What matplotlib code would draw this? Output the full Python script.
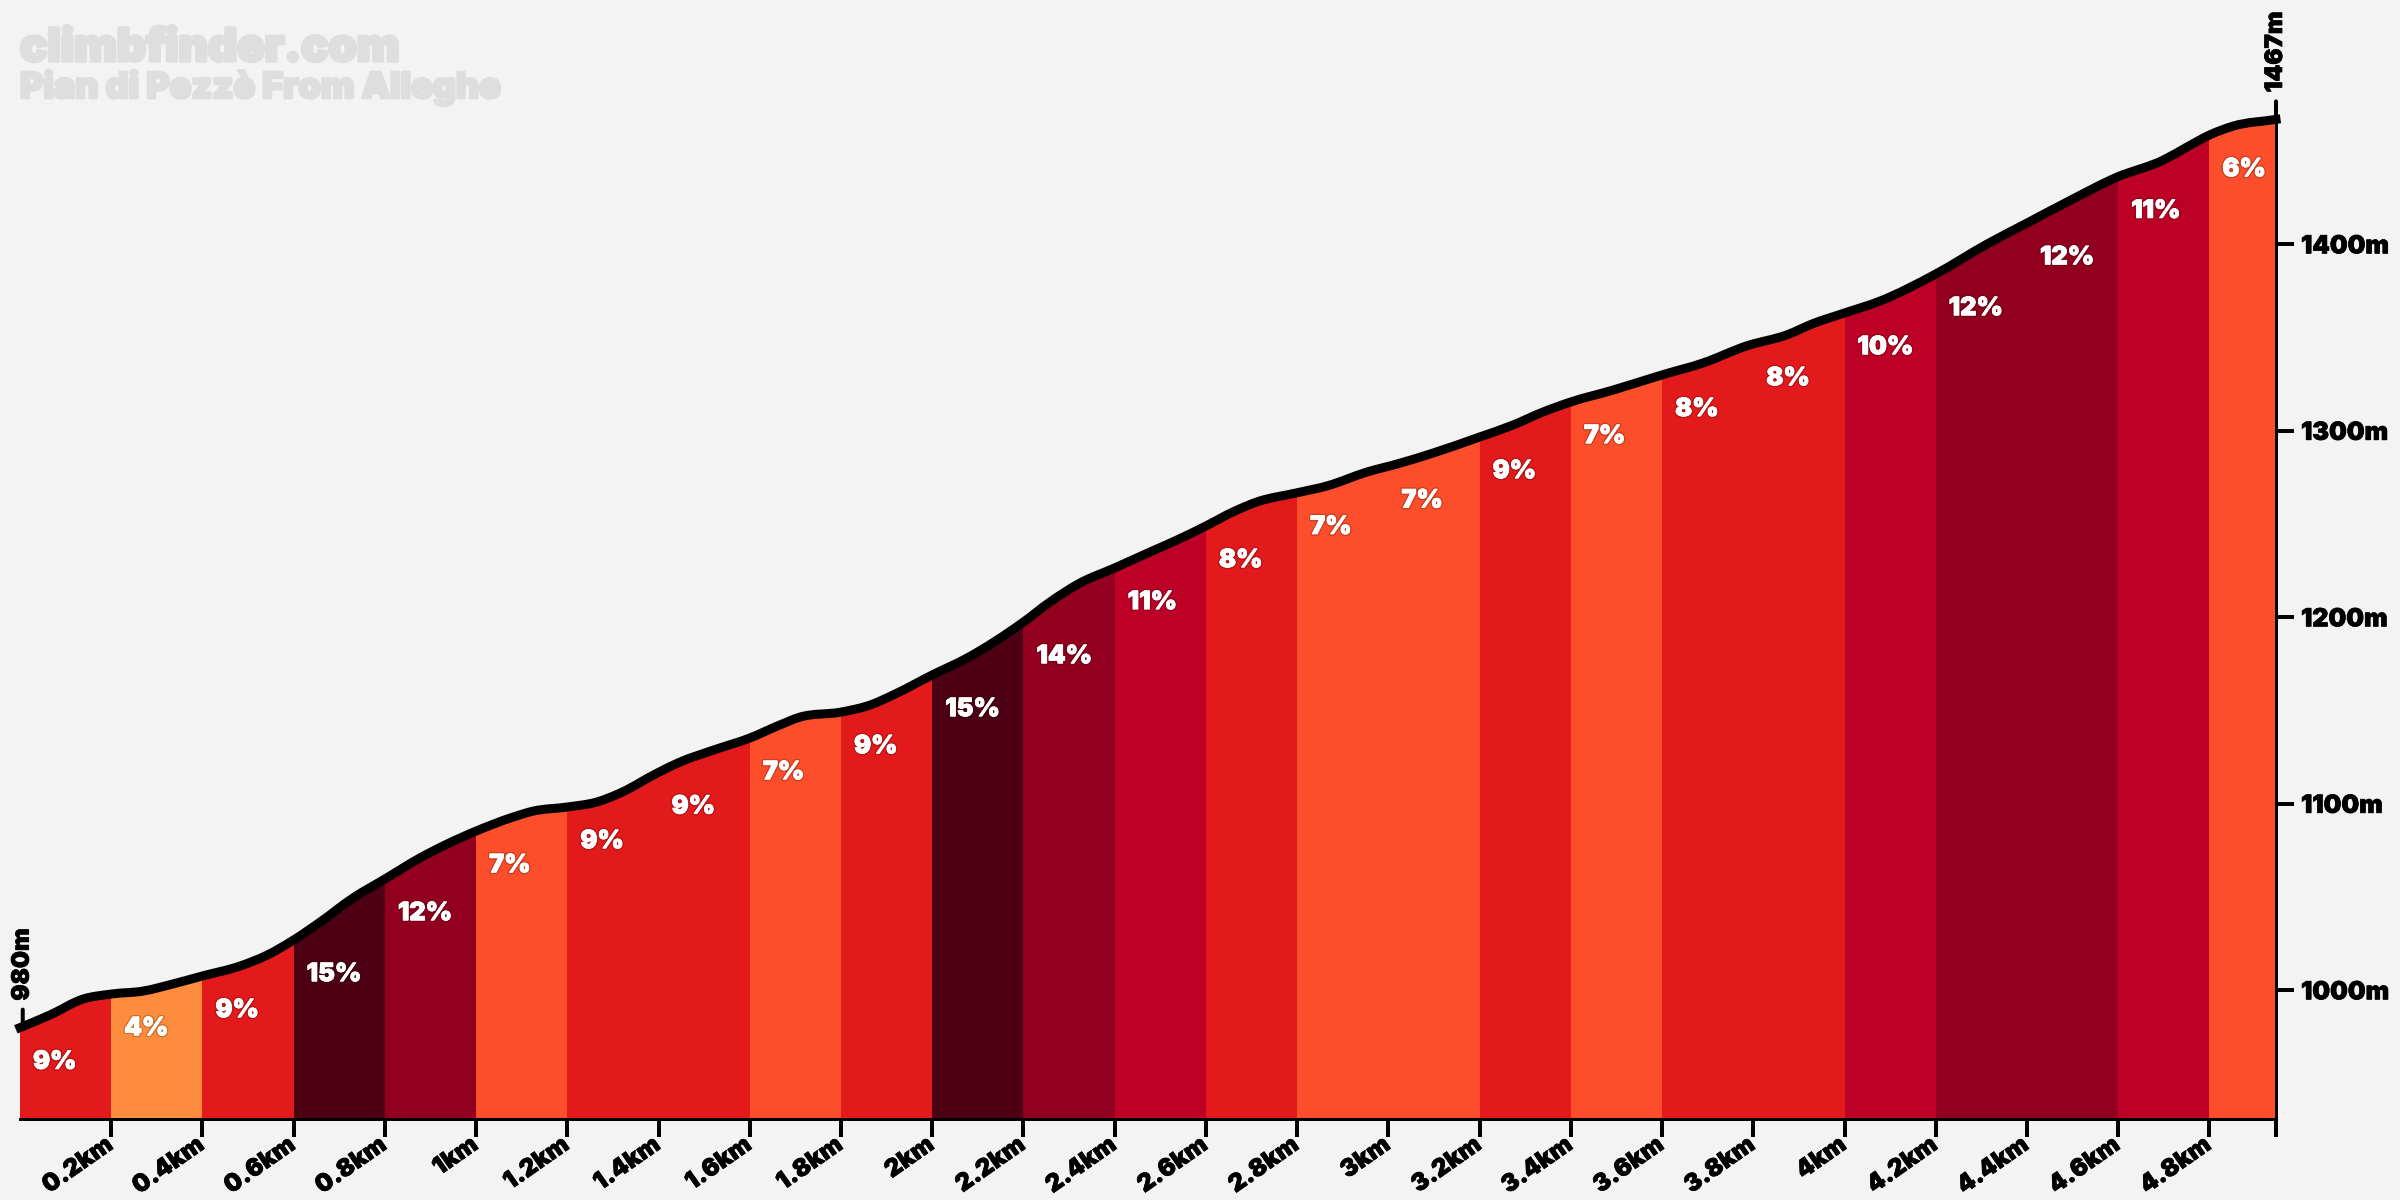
import matplotlib
matplotlib.use("Agg")
import matplotlib.pyplot as plt
import matplotlib.patheffects as pe
from matplotlib.path import Path
from matplotlib.patches import PathPatch
from matplotlib.transforms import ScaledTranslation
import numpy as np

# ---------- data ----------
profile_km = [0, .066, .138, .2, .27, .335, .4, .482, .542, .6, .658, .73, .8, .877, .936, 1.0,
              1.081, 1.125, 1.2, 1.265, 1.316, 1.397, 1.447, 1.52, 1.6, 1.666, 1.71, 1.8, 1.864,
              1.923, 2.0, 2.075, 2.2, 2.258, 2.324, 2.4, 2.478, 2.537, 2.6, 2.66, 2.712,
              2.8, 2.866, 2.953, 3.026, 3.098, 3.2, 3.273, 3.339, 3.4, 3.493, 3.6, 3.69, 3.786,
              3.874, 3.931, 4.0, 4.078, 4.2, 4.313, 4.4, 4.488, 4.598, 4.699, 4.751, 4.8, 4.852, 4.946]
profile_m = [980, 986.8, 995.3, 998.0, 999.6, 1003.4, 1007.7, 1013.0, 1018.9, 1027.0, 1036.6, 1049.5,
             1059.7, 1071.0, 1078.4, 1085.4, 1092.9, 1096.1, 1098.3, 1101.0, 1105.8, 1116.5, 1122.4,
             1128.8, 1135.3, 1142.3, 1146.5, 1149.2, 1153.0, 1159.4, 1169.1, 1178.0, 1197.5,
             1208.2, 1218.4, 1226.5, 1235.1, 1241.5, 1249.0, 1256.6, 1261.9, 1266.8, 1270.5, 1277.9,
             1282.7, 1288.1, 1296.7, 1303.1, 1310.1, 1315.5, 1321.9, 1330.0, 1336.4, 1345.6, 1351.5,
             1357.5, 1363.2, 1369.6, 1384.1, 1400.2, 1411.4, 1422.7, 1436.1, 1445.2, 1452.2, 1458.6,
             1463.4, 1467]
seg_start_km = [0, .2, .4, .6, .8, 1.0, 1.2, 1.4, 1.6, 1.8, 2.0, 2.2, 2.4, 2.6, 2.8, 3.0, 3.2, 3.4,
                3.6, 3.8, 4.0, 4.2, 4.4, 4.6, 4.8]
seg_grade = [9, 4, 9, 15, 12, 7, 9, 9, 7, 9, 15, 14, 11, 8, 7, 7, 9, 7, 8, 8, 10, 12, 12, 11, 6]
grade_colors = {4: "#fd8d3c", 6: "#fc4e2a", 7: "#fc4e2a", 8: "#e31a1c", 9: "#e31a1c",
                10: "#bd0026", 11: "#bd0026", 12: "#93001f", 14: "#93001f", 15: "#4d0014"}
x_tick_km = [.2, .4, .6, .8, 1, 1.2, 1.4, 1.6, 1.8, 2, 2.2, 2.4, 2.6, 2.8, 3, 3.2, 3.4, 3.6, 3.8, 4,
             4.2, 4.4, 4.6, 4.8]
y_tick_m = [1000, 1100, 1200, 1300, 1400]
title_main = "climbfinder.com"
title_sub = "Pian di Pezzè From Alleghe"

BG = "#f3f3f3"
FONT = "Inter"
PX = 72 / 100  # one output pixel in points

km = np.array(profile_km)
m = np.array(profile_m)
total_km = km[-1]
y_bottom = 931.0

fig = plt.figure(figsize=(24, 12), dpi=100, facecolor=BG)
ax = fig.add_axes([20 / 2400, (1200 - 1119) / 1200, 2256 / 2400, 999.6 / 1200], facecolor=BG)
ax.set_xlim(0, total_km)
ax.set_ylim(y_bottom, 1467)

# smooth profile through the read points (Catmull-Rom as Bezier)
slope = np.gradient(m, km)
verts = [(km[0], m[0])]
codes = [Path.MOVETO]
for i in range(len(km) - 1):
    h = km[i + 1] - km[i]
    verts += [(km[i] + h / 3, m[i] + slope[i] * h / 3),
              (km[i + 1] - h / 3, m[i + 1] - slope[i + 1] * h / 3),
              (km[i + 1], m[i + 1])]
    codes += [Path.CURVE4] * 3
curve = Path(verts, codes)
area = Path(verts + [(total_km, y_bottom), (0, y_bottom), (0, m[0])],
            codes + [Path.LINETO, Path.LINETO, Path.LINETO])

widths = np.diff(seg_start_km + [total_km])
bars = ax.bar(seg_start_km, 1467 - y_bottom, widths, bottom=y_bottom, align="edge",
              color=[grade_colors[g] for g in seg_grade], linewidth=0, zorder=1)
clip = PathPatch(area, transform=ax.transData, facecolor="none", edgecolor="none")
ax.add_patch(clip)
for b in bars:
    b.set_clip_path(clip)

ax.add_patch(PathPatch(curve, facecolor="none", edgecolor="black", lw=9 * PX,
                       capstyle="projecting", joinstyle="round", clip_on=False, zorder=5))

# grade labels
lab_fx = [pe.withStroke(linewidth=2.6, foreground="#00000030"),
          pe.withStroke(linewidth=0.6, foreground="white")]
offset_km = 13 / 456.1
for s, g in zip(seg_start_km, seg_grade):
    y0 = np.interp(s, km, m)
    ax.text(s + offset_km, y0 - 18.6, f"{g}%", color="white", family=FONT, weight="black",
            fontsize=18.2, ha="left", va="center", zorder=6, path_effects=lab_fx)

# axes
for side in ("top", "left"):
    ax.spines[side].set_visible(False)
for side in ("bottom", "right"):
    ax.spines[side].set_linewidth(3 * PX)
    ax.spines[side].set_zorder(7)
ax.yaxis.tick_right()
ax.set_yticks(y_tick_m, [f"{v}m" for v in y_tick_m])
ax.set_xticks(x_tick_km + [total_km], [f"{v:g}km" for v in x_tick_km] + [""])
ax.tick_params(axis="both", length=18 * PX, width=4 * PX, color="black")
ax.tick_params(axis="y", pad=7 * PX)
ax.tick_params(axis="x", pad=0)
txt_fx = [pe.withStroke(linewidth=0.5, foreground="black")]
shift = ScaledTranslation(-7 / 100, 4 / 100, fig.dpi_scale_trans)
for t in ax.get_yticklabels():
    t.set(family=FONT, weight="black", fontsize=18, color="black", path_effects=txt_fx)
for t in ax.get_xticklabels():
    t.set(family=FONT, weight="black", fontsize=17.5, color="black", rotation=35, ha="right",
          va="top", rotation_mode="anchor", path_effects=txt_fx)
    t.set_transform(t.get_transform() + shift)

# start and finish marks
for x, e, label in [(0.006, 980, "980m"), (total_km, 1467, "1467m")]:
    ax.annotate("", xy=(x, e), xytext=(0, 18), xycoords="data",
                textcoords="offset pixels", arrowprops=dict(arrowstyle="-", lw=4 * PX, color="black",
                shrinkA=0, shrinkB=0), annotation_clip=False)
    ax.annotate(label, xy=(x, e), xytext=(0, 27), xycoords="data", textcoords="offset pixels",
                rotation=90, ha="center", va="bottom", family=FONT, weight="black", fontsize=17.3,
                color="black", path_effects=txt_fx, annotation_clip=False)

# watermark titles
fig.text(20 / 2400, 1 - 61 / 1200, title_main, family=FONT, weight="black", fontsize=32.6, color="#dedede",
         ha="left", va="baseline", path_effects=[pe.withStroke(linewidth=2.5, foreground="#dedede")])
fig.text(20 / 2400, 1 - 98 / 1200, title_sub, family=FONT, weight="black", fontsize=25.7, color="#dedede",
         ha="left", va="baseline", path_effects=[pe.withStroke(linewidth=2, foreground="#dedede")])

fig.savefig("out.png", dpi=100, facecolor=BG)
